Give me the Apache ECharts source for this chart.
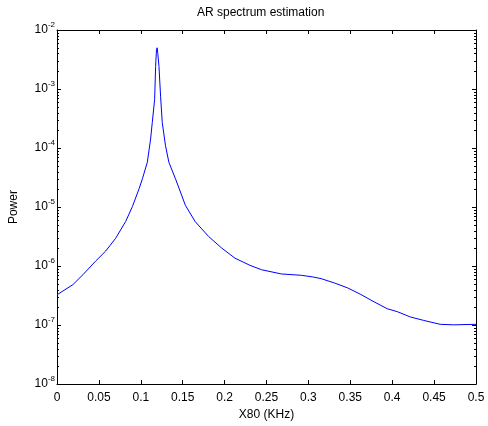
<!DOCTYPE html>
<html>
<head>
<meta charset="utf-8">
<script src="https://cdn.jsdelivr.net/npm/echarts@6/dist/echarts.min.js"></script>
<style>
html,body{margin:0;padding:0;background:#fff;}
#chart{width:488px;height:426px;}
</style>
</head>
<body>
<div id="chart"></div>
<script>
var freq = [0, 0.019, 0.031, 0.046, 0.058, 0.07, 0.082, 0.09, 0.098, 0.1019, 0.1078, 0.1117, 0.1137, 0.1165, 0.1177, 0.118, 0.1187, 0.1195, 0.1203, 0.121, 0.1217, 0.1236, 0.1256, 0.1295, 0.1335, 0.1414, 0.1473, 0.1532, 0.165, 0.181, 0.1967, 0.2124, 0.2302, 0.244, 0.2678, 0.2915, 0.3053, 0.3152, 0.3309, 0.3468, 0.3626, 0.3783, 0.3942, 0.406, 0.4218, 0.4376, 0.4573, 0.4731, 0.5];
var power = [3.26e-7, 4.85e-7, 7.15e-7, 1.21e-6, 1.79e-6, 2.96e-6, 5.71e-6, 1.02e-5, 2.05e-5, 3.01e-5, 5.75e-5, 1.42e-4, 2.70e-4, 6.67e-4, 2.42e-3, 3.0e-3, 4.6e-3, 5.0e-3, 4.0e-3, 4.1e-3, 2.4e-3, 7.57e-4, 2.70e-4, 1.09e-4, 5.75e-5, 3.01e-5, 1.80e-5, 1.07e-5, 5.64e-6, 3.16e-6, 2.01e-6, 1.36e-6, 1.03e-6, 8.67e-7, 7.35e-7, 6.98e-7, 6.54e-7, 6.12e-7, 5.18e-7, 4.27e-7, 3.30e-7, 2.48e-7, 1.89e-7, 1.69e-7, 1.37e-7, 1.20e-7, 1.03e-7, 1.01e-7, 1.03e-7];
var xTicks = [0, 0.05, 0.1, 0.15, 0.2, 0.25, 0.3, 0.35, 0.4, 0.45, 0.5];
var yDecades = [-8, -7, -6, -5, -4, -3, -2];

var titleText = 'AR spectrum estimation';
var xName = 'X80 (KHz)';
var yName = 'Power';

// minor tick positions on the log axis (2..9 x 10^n)
var minorVals = [];
for (var d = 0; d < yDecades.length - 1; d++) {
  for (var k = 2; k <= 9; k++) minorVals.push(k * Math.pow(10, yDecades[d]));
}

var lineData = freq.map(function (f, i) { return [f, power[i]]; });
var FONT = '"Liberation Sans", Arial, sans-serif';
var chart = echarts.init(document.getElementById('chart'));

function xLabel(v) {
  return String(Math.round(v * 100) / 100);
}
function yLabel(v) {
  var e = Math.round(Math.log10(v));
  return '{b|10}{s|' + e + '}';
}

var option = {
  backgroundColor: '#fff',
  animation: false,
  title: {
    text: titleText,
    left: 197, top: 7, padding: 0,
    textStyle: { fontFamily: FONT, fontSize: 12, fontWeight: 'normal', color: '#000' }
  },
  grid: { left: 54, right: 12, top: 30, bottom: 39, containLabel: false },
  xAxis: [{
    type: 'value', min: 0, max: 0.5, interval: 0.05, position: 'bottom',
    name: xName, nameLocation: 'middle', nameGap: 24,
    nameTextStyle: { fontFamily: FONT, fontSize: 12, color: '#000' },
    axisLine: { show: true, onZero: false, lineStyle: { color: '#000', width: 1 } },
    axisTick: { show: true, inside: true, length: 4, lineStyle: { color: '#000' } },
    axisLabel: { show: true, margin: 8, formatter: xLabel, fontFamily: FONT, fontSize: 12, color: '#000', customValues: xTicks },
    splitLine: { show: false }
  }, {
    type: 'value', min: 0, max: 0.5, interval: 0.05, position: 'top',
    axisLine: { show: true, onZero: false, lineStyle: { color: '#000', width: 1 } },
    axisTick: { show: true, inside: true, length: 4, lineStyle: { color: '#000' } },
    axisLabel: { show: false },
    splitLine: { show: false }
  }],
  yAxis: [{
    type: 'log', logBase: 10, min: 1e-8, max: 1e-2, position: 'left',
    name: yName, nameLocation: 'middle', nameGap: 37, nameRotate: 90,
    nameTextStyle: { fontFamily: FONT, fontSize: 12, color: '#000' },
    axisLine: { show: true, onZero: false, lineStyle: { color: '#000', width: 1 } },
    axisTick: { show: true, inside: true, length: 4, lineStyle: { color: '#000' } },
    axisLabel: {
      show: true, margin: 2, formatter: yLabel, color: '#000',
      rich: {
        b: { fontFamily: FONT, fontSize: 12, color: '#000' },
        s: { fontFamily: FONT, fontSize: 8, color: '#000', padding: [0, 0, 11, 0] }
      }
    },
    splitLine: { show: false }
  }, {
    type: 'log', logBase: 10, min: 1e-8, max: 1e-2, position: 'right',
    axisLine: { show: true, onZero: false, lineStyle: { color: '#000', width: 1 } },
    axisTick: { show: true, inside: true, length: 4, lineStyle: { color: '#000' } },
    axisLabel: { show: false },
    splitLine: { show: false }
  }],
  series: [{
    type: 'line',
    xAxisIndex: 0, yAxisIndex: 0,
    data: lineData,
    showSymbol: false,
    symbol: 'none',
    lineStyle: { color: '#0000ff', width: 1 },
    clip: true
  }, {
    type: 'custom',
    xAxisIndex: 0, yAxisIndex: 0,
    clip: false,
    silent: true,
    data: minorVals.map(function (v) { return [0, v]; }),
    renderItem: function (params, api) {
      var v = api.value(1);
      var pl = api.coord([0, v]);
      var pr = api.coord([0.5, v]);
      var y = Math.round(pl[1]) + 0.5;
      return {
        type: 'group',
        children: [{
          type: 'line',
          shape: { x1: pl[0], y1: y, x2: pl[0] + 2, y2: y },
          style: { stroke: '#000', lineWidth: 1 }
        }, {
          type: 'line',
          shape: { x1: pr[0] - 2, y1: y, x2: pr[0], y2: y },
          style: { stroke: '#000', lineWidth: 1 }
        }]
      };
    }
  }]
};
chart.setOption(option);
</script>
</body>
</html>
